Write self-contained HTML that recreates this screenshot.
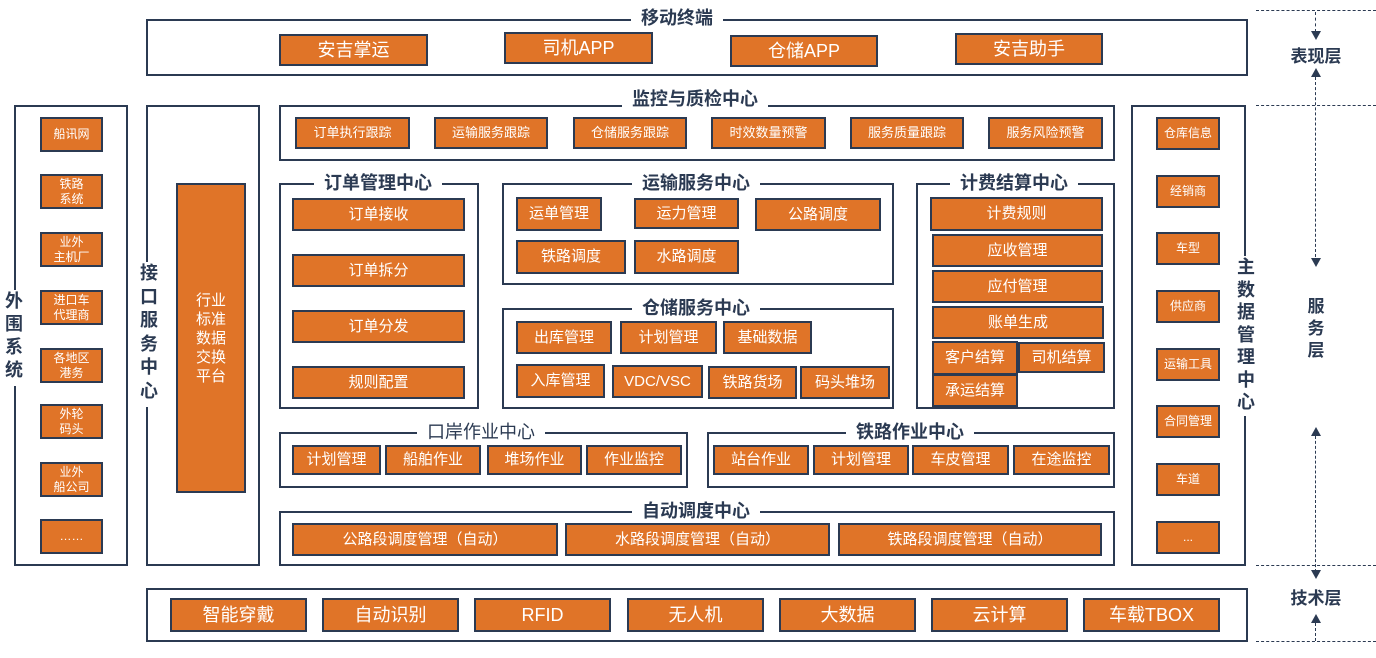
<!DOCTYPE html>
<html><head><meta charset="utf-8"><style>
*{margin:0;padding:0;box-sizing:border-box}
body{width:1376px;height:658px;background:#fff;position:relative;overflow:hidden;font-family:"Liberation Sans","Noto Sans CJK SC",sans-serif;color:#2b3a52}
.c{position:absolute;border:2px solid #2b3a52}
.b{position:absolute;background:#e07428;border:2px solid #2b3a52;color:#fff;display:flex;align-items:center;justify-content:center;text-align:center;font-size:15px;line-height:1.15;white-space:nowrap}
.t{position:absolute;background:#fff;font-weight:bold;font-size:18px;padding:0 10px;transform:translateX(-50%);line-height:22px;white-space:nowrap}
.s{font-size:13px}
.xs{font-size:12px;line-height:1.2}
.big{font-size:18px}
.v{position:absolute;background:#fff;font-weight:bold;font-size:18px;width:22px;text-align:center;line-height:23px}
.d{position:absolute;left:1256px;width:120px;border-top:1px dashed #2b3a52}
.va{position:absolute;left:1315px;border-left:1.5px dashed #2b3a52}
.ad{position:absolute;width:0;height:0;border-left:5px solid transparent;border-right:5px solid transparent;border-top:9px solid #2b3a52;left:1311px}
.au{position:absolute;width:0;height:0;border-left:5px solid transparent;border-right:5px solid transparent;border-bottom:9px solid #2b3a52;left:1311px}
.lay{position:absolute;font-weight:bold;font-size:17px;width:80px;text-align:center;left:1276px}
</style></head><body>

<div class="d" style="top:10px"></div>
<div class="d" style="top:105px"></div>
<div class="d" style="top:565px"></div>
<div class="d" style="top:641px"></div>
<div class="va" style="top:12px;height:20px"></div><div class="ad" style="top:31px"></div>
<div class="lay" style="top:42px">表现层</div>
<div class="au" style="top:68px"></div><div class="va" style="top:77px;height:180px"></div><div class="ad" style="top:258px"></div>
<div class="lay" style="top:296px;width:22px;left:1305px;line-height:22px">服务层</div>
<div class="au" style="top:427px"></div><div class="va" style="top:436px;height:136px"></div><div class="ad" style="top:570px"></div>
<div class="lay" style="top:584px">技术层</div>
<div class="au" style="top:614px"></div><div class="va" style="top:623px;height:18px"></div>

<div class="c" style="left:146px;top:19px;width:1102px;height:57px"></div>
<div class="t" style="left:677px;top:7px">移动终端</div>
<div class="b big" style="left:279px;top:34px;width:149px;height:32px">安吉掌运</div>
<div class="b big" style="left:504px;top:32px;width:149px;height:32px">司机APP</div>
<div class="b big" style="left:730px;top:35px;width:148px;height:32px">仓储APP</div>
<div class="b big" style="left:955px;top:33px;width:148px;height:32px">安吉助手</div>

<div class="c" style="left:14px;top:105px;width:114px;height:461px"></div>
<div class="v" style="left:3px;top:290px;height:96px">外围系统</div>
<div class="b xs" style="left:40px;top:117px;width:63px;height:35px">船讯网</div>
<div class="b xs" style="left:40px;top:174px;width:63px;height:35px">铁路<br>系统</div>
<div class="b xs" style="left:40px;top:232px;width:63px;height:35px">业外<br>主机厂</div>
<div class="b xs" style="left:40px;top:290px;width:63px;height:35px">进口车<br>代理商</div>
<div class="b xs" style="left:40px;top:348px;width:63px;height:35px">各地区<br>港务</div>
<div class="b xs" style="left:40px;top:404px;width:63px;height:35px">外轮<br>码头</div>
<div class="b xs" style="left:40px;top:462px;width:63px;height:35px">业外<br>船公司</div>
<div class="b xs" style="left:40px;top:519px;width:63px;height:35px">……</div>

<div class="c" style="left:146px;top:105px;width:114px;height:461px"></div>
<div class="v" style="left:138px;top:262px;height:145px;line-height:23.5px">接口服务中心</div>
<div class="b" style="left:176px;top:183px;width:70px;height:310px;font-size:15px;white-space:normal;line-height:19px;padding:0 18px">行业标准数据交换平台</div>

<div class="c" style="left:279px;top:105px;width:836px;height:56px"></div>
<div class="t" style="left:695px;top:88px">监控与质检中心</div>
<div class="b s" style="left:295px;top:117px;width:115px;height:32px">订单执行跟踪</div>
<div class="b s" style="left:434px;top:117px;width:114px;height:32px">运输服务跟踪</div>
<div class="b s" style="left:573px;top:117px;width:114px;height:32px">仓储服务跟踪</div>
<div class="b s" style="left:711px;top:117px;width:115px;height:32px">时效数量预警</div>
<div class="b s" style="left:850px;top:117px;width:114px;height:32px">服务质量跟踪</div>
<div class="b s" style="left:988px;top:117px;width:115px;height:32px">服务风险预警</div>

<div class="c" style="left:279px;top:183px;width:200px;height:226px"></div>
<div class="t" style="left:378px;top:172px">订单管理中心</div>
<div class="b" style="left:292px;top:198px;width:173px;height:33px">订单接收</div>
<div class="b" style="left:292px;top:254px;width:173px;height:33px">订单拆分</div>
<div class="b" style="left:292px;top:310px;width:173px;height:33px">订单分发</div>
<div class="b" style="left:292px;top:366px;width:173px;height:33px">规则配置</div>

<div class="c" style="left:502px;top:183px;width:392px;height:102px"></div>
<div class="t" style="left:696px;top:172px">运输服务中心</div>
<div class="b" style="left:516px;top:197px;width:86px;height:34px">运单管理</div>
<div class="b" style="left:634px;top:198px;width:105px;height:31px">运力管理</div>
<div class="b" style="left:755px;top:198px;width:126px;height:33px">公路调度</div>
<div class="b" style="left:516px;top:240px;width:110px;height:34px">铁路调度</div>
<div class="b" style="left:634px;top:240px;width:105px;height:34px">水路调度</div>

<div class="c" style="left:502px;top:308px;width:392px;height:101px"></div>
<div class="t" style="left:696px;top:297px">仓储服务中心</div>
<div class="b" style="left:516px;top:321px;width:96px;height:33px">出库管理</div>
<div class="b" style="left:620px;top:321px;width:97px;height:33px">计划管理</div>
<div class="b" style="left:723px;top:321px;width:89px;height:33px">基础数据</div>
<div class="b" style="left:516px;top:364px;width:89px;height:34px">入库管理</div>
<div class="b" style="left:612px;top:365px;width:91px;height:33px">VDC/VSC</div>
<div class="b" style="left:708px;top:366px;width:89px;height:33px">铁路货场</div>
<div class="b" style="left:800px;top:366px;width:90px;height:33px">码头堆场</div>

<div class="c" style="left:916px;top:183px;width:199px;height:226px"></div>
<div class="t" style="left:1014px;top:172px">计费结算中心</div>
<div class="b" style="left:930px;top:197px;width:173px;height:34px">计费规则</div>
<div class="b" style="left:932px;top:234px;width:171px;height:33px">应收管理</div>
<div class="b" style="left:932px;top:270px;width:171px;height:33px">应付管理</div>
<div class="b" style="left:932px;top:306px;width:172px;height:33px">账单生成</div>
<div class="b" style="left:932px;top:341px;width:86px;height:34px">客户结算</div>
<div class="b" style="left:1018px;top:342px;width:87px;height:31px">司机结算</div>
<div class="b" style="left:932px;top:374px;width:86px;height:33px">承运结算</div>

<div class="c" style="left:279px;top:432px;width:409px;height:56px"></div>
<div class="t" style="left:481px;top:421px;font-weight:normal">口岸作业中心</div>
<div class="b" style="left:292px;top:445px;width:89px;height:30px">计划管理</div>
<div class="b" style="left:385px;top:445px;width:96px;height:30px">船舶作业</div>
<div class="b" style="left:487px;top:445px;width:95px;height:30px">堆场作业</div>
<div class="b" style="left:586px;top:445px;width:96px;height:30px">作业监控</div>

<div class="c" style="left:707px;top:432px;width:408px;height:56px"></div>
<div class="t" style="left:910px;top:421px">铁路作业中心</div>
<div class="b" style="left:713px;top:445px;width:96px;height:30px">站台作业</div>
<div class="b" style="left:813px;top:445px;width:96px;height:30px">计划管理</div>
<div class="b" style="left:912px;top:445px;width:97px;height:30px">车皮管理</div>
<div class="b" style="left:1013px;top:445px;width:97px;height:30px">在途监控</div>

<div class="c" style="left:279px;top:511px;width:836px;height:55px"></div>
<div class="t" style="left:696px;top:500px">自动调度中心</div>
<div class="b" style="left:292px;top:523px;width:266px;height:33px">公路段调度管理（自动）</div>
<div class="b" style="left:565px;top:523px;width:265px;height:33px">水路段调度管理（自动）</div>
<div class="b" style="left:838px;top:523px;width:264px;height:33px">铁路段调度管理（自动）</div>

<div class="c" style="left:1131px;top:105px;width:115px;height:461px"></div>
<div class="v" style="left:1235px;top:256px;height:160px;line-height:22.5px">主数据管理中心</div>
<div class="b xs" style="left:1156px;top:117px;width:64px;height:33px">仓库信息</div>
<div class="b xs" style="left:1156px;top:175px;width:64px;height:33px">经销商</div>
<div class="b xs" style="left:1156px;top:232px;width:64px;height:33px">车型</div>
<div class="b xs" style="left:1156px;top:290px;width:64px;height:33px">供应商</div>
<div class="b xs" style="left:1156px;top:348px;width:64px;height:33px">运输工具</div>
<div class="b xs" style="left:1156px;top:405px;width:64px;height:33px">合同管理</div>
<div class="b xs" style="left:1156px;top:463px;width:64px;height:33px">车道</div>
<div class="b xs" style="left:1156px;top:521px;width:64px;height:33px">...</div>

<div class="c" style="left:146px;top:588px;width:1102px;height:54px"></div>
<div class="b big" style="left:170px;top:598px;width:137px;height:34px">智能穿戴</div>
<div class="b big" style="left:322px;top:598px;width:137px;height:34px">自动识别</div>
<div class="b big" style="left:474px;top:598px;width:137px;height:34px">RFID</div>
<div class="b big" style="left:627px;top:598px;width:137px;height:34px">无人机</div>
<div class="b big" style="left:779px;top:598px;width:137px;height:34px">大数据</div>
<div class="b big" style="left:931px;top:598px;width:137px;height:34px">云计算</div>
<div class="b big" style="left:1083px;top:598px;width:137px;height:34px">车载TBOX</div>

</body></html>
